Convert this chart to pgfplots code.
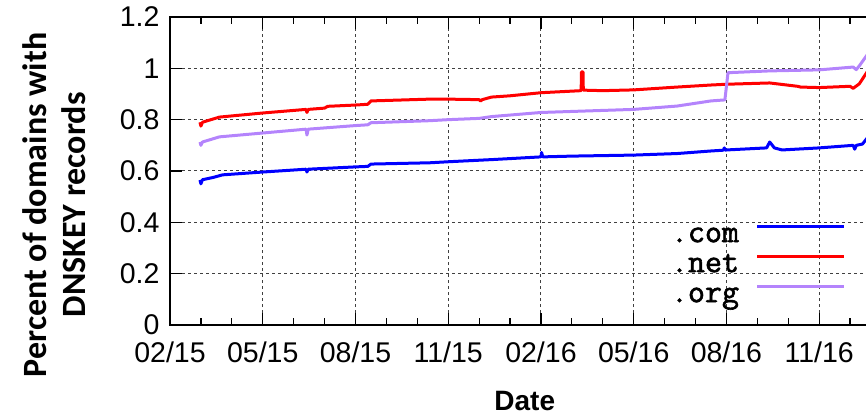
\documentclass[border=0pt]{standalone}
\usepackage{pgfplots}
\pgfplotsset{compat=1.18}
\usepackage{fontspec}
\setmainfont{Liberation Sans}
\newfontfamily\ylabfont{Carlito}
\newfontfamily\legfont[FakeBold=1.8]{Latin Modern Mono}
\definecolor{comc}{RGB}{0,0,255}
\definecolor{netc}{RGB}{255,0,0}
\definecolor{orgc}{RGB}{180,132,252}
\begin{document}
\begin{tikzpicture}
\useasboundingbox (0,0) rectangle (866pt,415pt);
\clip (0,0) rectangle (866pt,415pt);
\begin{axis}[
  at={(170pt,90pt)}, anchor=south west,
  scale only axis, width=711pt, height=308pt,
  xmin=0, xmax=23, ymin=0, ymax=1.2,
  xtick={0,3,6,9,12,15,18,21},
  xticklabels={02/15,05/15,08/15,11/15,02/16,05/16,08/16,11/16},
  minor xtick={1,2,4,5,7,8,10,11,13,14,16,17,19,20,22,23},
  ytick={0,0.2,0.4,0.6,0.8,1,1.2},
  yticklabels={0,0.2,0.4,0.6,0.8,1,1.2},
  tick align=inside,
  major tick length=12pt, minor tick length=7pt,
  tick style={black, line width=1.2pt},
  axis line style={line width=2.6pt},
  grid=major,
  major grid style={black!75, line width=1pt, dash pattern=on 3pt off 3pt},
  /pgf/number format/assume math mode=true,
  ticklabel style={font=\fontsize{28.5}{34}\selectfont},
  yticklabel style={xshift=-7pt},
  xticklabel style={yshift=-13pt},
  xlabel={Date},
  xlabel style={font=\fontsize{28}{32}\selectfont\bfseries, at={(axis description cs:0.499,-0.247)}, anchor=center},
  ylabel={Percent of domains with\\DNSKEY records},
  ylabel style={font=\ylabfont\fontsize{34}{39}\selectfont\bfseries, align=center, at={(axis description cs:-0.163,0.39)}, anchor=center},
  legend plot pos=right,
  legend cell align=right,
  legend style={draw=none, fill=none, inner sep=0pt, at={(axis description cs:0.951,0.341)}, anchor=north east,
    font=\legfont\fontsize{33}{34}\selectfont, row sep=-1pt,
    nodes={text height=20pt, text depth=7pt, inner sep=2pt},
    /tikz/every odd column/.style={column sep=15pt}},
  legend image code/.code={\draw[#1] (0pt,9pt) -- (87pt,9pt);},
  every axis plot/.append style={line width=3pt, line join=round},
]
\addplot[comc] coordinates {
(0.97,0.565) (1.0,0.55) (1.05,0.566) (1.4,0.575) (1.7,0.585) (3,0.596) (4.4,0.607) (4.43,0.596) (4.47,0.607)
(6,0.616) (6.4,0.618) (6.5,0.627) (8.4,0.632) (9,0.636) (10.5,0.645) (12,0.655) (12.02,0.672) (12.06,0.655)
(13,0.658) (15,0.662) (16.4,0.668) (17.5,0.678) (17.9,0.681) (17.93,0.69) (17.96,0.681) (18,0.682) (19.3,0.69) (19.4,0.713) (19.55,0.69)
(19.8,0.682) (21,0.69) (22.1,0.70) (22.15,0.685) (22.2,0.70) (22.4,0.705) (22.55,0.728)
};
\addlegendentry{.com}
\addplot[netc] coordinates {
(0.97,0.79) (1.0,0.775) (1.05,0.79) (1.6,0.81) (3,0.826) (4.4,0.84) (4.43,0.828) (4.47,0.84) (5,0.845) (5.1,0.852)
(6,0.857) (6.4,0.86) (6.5,0.873) (8.4,0.88) (9,0.88) (10,0.878) (10.05,0.872) (10.1,0.878) (10.4,0.888) (11,0.893) (12,0.905)
(13.3,0.913) (13.31,0.986) (13.36,0.986) (13.37,0.915) (14,0.913) (15,0.916) (16.4,0.927) (17.5,0.935) (18,0.938)
(19.4,0.943) (20.3,0.93) (20.4,0.927) (21,0.925) (22.0,0.93) (22.1,0.922) (22.3,0.94) (22.55,0.986)
};
\addlegendentry{.net}
\addplot[orgc] coordinates {
(0.97,0.713) (1.0,0.70) (1.05,0.713) (1.6,0.733) (3,0.748) (4.4,0.763) (4.43,0.74) (4.47,0.763) (6,0.777)
(6.4,0.78) (6.5,0.788) (8.4,0.796) (9,0.80) (10,0.805) (10.4,0.812) (12,0.828) (13,0.832) (15,0.84)
(16.4,0.853) (17.5,0.873) (17.95,0.877) (18.05,0.983) (19.4,0.99) (21,0.994) (22.1,1.005) (22.2,0.995)
(22.3,1.01) (22.55,1.052)
};
\addlegendentry{.org}
\end{axis}
\end{tikzpicture}
\end{document}
